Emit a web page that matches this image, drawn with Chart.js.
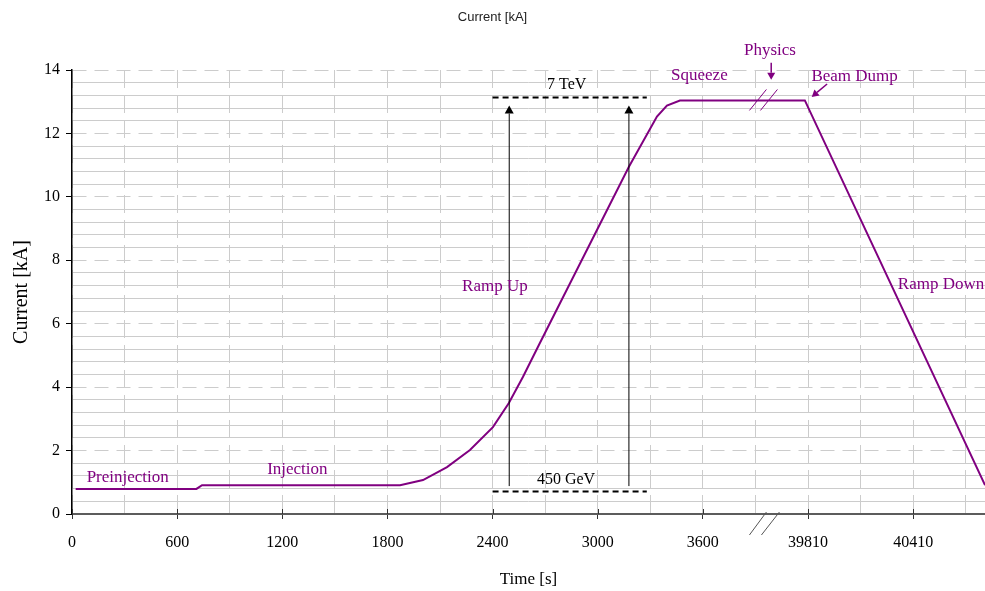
<!DOCTYPE html>
<html>
<head>
<meta charset="utf-8">
<script src="https://cdn.jsdelivr.net/npm/chart.js@4.4.0/dist/chart.umd.min.js"></script>
<style>
  html, body { margin: 0; padding: 0; background: #ffffff; }
  #wrap { width: 985px; height: 591px; }
</style>
</head>
<body>
<div id="wrap"><canvas id="c" width="985" height="591"></canvas></div>
<script>
// ---------------- data ----------------
const timeSeconds = [21, 710, 742, 1872, 2003, 2140, 2271, 2402, 2493, 2573, 2670, 3178, 3338, 3395, 3469, 39792, 40820];
const currentKA   = [0.79, 0.79, 0.91, 0.91, 1.07, 1.48, 2.02, 2.74, 3.50, 4.32, 5.39, 10.95, 12.53, 12.88, 13.04, 13.04, 0.91];

const xTickLabels    = ['0', '600', '1200', '1800', '2400', '3000', '3600', '39810', '40410'];
const xTickPositions = [0, 600, 1200, 1800, 2400, 3000, 3600, 4200, 4800];
const yTickLabels    = ['0', '2', '4', '6', '8', '10', '12', '14'];

const breakAt   = 3900;   // axis position of the time-axis break
const breakSkip = 35610;  // seconds left out by the break (39810 - 4200)
const axisEnd   = 5210;   // last axis position (40820 s)

const phaseLabels  = ['Preinjection', 'Injection', 'Ramp Up', 'Squeeze', 'Physics', 'Beam Dump', 'Ramp Down'];
const energyLabels = ['7 TeV', '450 GeV'];
const energyKA     = [13.13, 0.71];

// ---------------- helpers ----------------
const toAxis = t => (t > breakAt ? t - breakSkip : t);
const near = (a, b) => Math.abs(a - b) < 1e-6;
const yMajorLabel = v => { const k = Math.round(v / 2); return near(v, k * 2) ? yTickLabels[k] : null; };
const xMajorLabel = v => { const i = xTickPositions.findIndex(p => near(p, v)); return i >= 0 ? xTickLabels[i] : null; };

const points = timeSeconds.map((t, i) => ({ x: toAxis(t), y: currentKA[i] }));

// ---------------- annotation layout (positions in axis coordinates) ----------------
const purple = '#800080';
const phaseLayout = [
  { x: 318,  y: 1.16 },   // Preinjection
  { x: 1286, y: 1.39 },   // Injection
  { x: 2413, y: 7.17 },   // Ramp Up
  { x: 3580, y: 13.82 },  // Squeeze
  { x: 3983, y: 14.62 },  // Physics
  { x: 4466, y: 13.80 },  // Beam Dump
  { x: 4959, y: 7.22 }    // Ramp Down
];
const energyLayout = [
  { from: 2400, to: 3280, textX: 2823, textY: 13.53 },
  { from: 2400, to: 3280, textX: 2819, textY: 1.085 }
];
const rampArrowsX = [2495, 3178];
const rampArrowFrom = 0.88, rampArrowTo = 12.88;

function arrow(ctx, x1, y1, x2, y2, color, headLen, headHalf) {
  const ang = Math.atan2(y2 - y1, x2 - x1);
  const bx = x2 - headLen * Math.cos(ang), by = y2 - headLen * Math.sin(ang);
  ctx.strokeStyle = color; ctx.fillStyle = color;
  ctx.beginPath(); ctx.moveTo(x1, y1); ctx.lineTo(bx, by); ctx.stroke();
  ctx.beginPath();
  ctx.moveTo(x2, y2);
  ctx.lineTo(bx + headHalf * Math.sin(ang), by - headHalf * Math.cos(ang));
  ctx.lineTo(bx - headHalf * Math.sin(ang), by + headHalf * Math.cos(ang));
  ctx.closePath(); ctx.fill();
}
function seg(ctx, x1, y1, x2, y2) { ctx.beginPath(); ctx.moveTo(x1, y1); ctx.lineTo(x2, y2); ctx.stroke(); }

const annotPlugin = {
  id: 'annot',
  afterDatasetsDraw(chart) {
    const { ctx, scales: { x, y } } = chart;
    const px = v => x.getPixelForValue(v), py = v => y.getPixelForValue(v);
    ctx.save();
    ctx.textAlign = 'center';
    ctx.textBaseline = 'middle';

    // energy levels: dashed lines + text
    energyLayout.forEach((e, i) => {
      ctx.strokeStyle = '#000'; ctx.lineWidth = 2; ctx.setLineDash([6, 4]);
      seg(ctx, px(e.from), py(energyKA[i]), px(e.to), py(energyKA[i]));
      ctx.setLineDash([]);
      ctx.fillStyle = '#000'; ctx.font = '16px "Liberation Serif"';
      ctx.fillText(energyLabels[i], px(e.textX), py(e.textY));
    });

    // ramp arrows
    ctx.lineWidth = 1;
    rampArrowsX.forEach(ax => arrow(ctx, px(ax), py(rampArrowFrom), px(ax), py(rampArrowTo), '#000', 8, 4.5));

    // phase labels
    ctx.font = '17px "Liberation Serif"';
    ctx.fillStyle = purple;
    phaseLabels.forEach((t, i) => ctx.fillText(t, px(phaseLayout[i].x), py(phaseLayout[i].y)));

    // Physics arrow
    ctx.lineWidth = 1.5;
    arrow(ctx, px(3990), py(14.23), px(3990), py(13.69), purple, 7, 4);
    // Beam Dump arrow
    arrow(ctx, px(4309), py(13.56), px(4221), py(13.15), purple, 7, 4);

    // break marks on the curve
    const bx = px(breakAt), by = py(13.04);
    ctx.strokeStyle = purple; ctx.lineWidth = 1;
    seg(ctx, bx - 6, by + 10, bx + 11, by - 11);
    seg(ctx, bx + 5, by + 10, bx + 22, by - 11);

    // break marks on the x axis
    const ay = y.getPixelForValue(0);
    ctx.strokeStyle = '#555'; ctx.lineWidth = 1;
    seg(ctx, bx - 6, ay + 21, bx + 11, ay - 2);
    seg(ctx, bx + 6, ay + 21, bx + 24, ay - 2);

    // x tick marks continue a little above the axis line
    ctx.strokeStyle = '#333'; ctx.lineWidth = 1;
    xTickPositions.forEach(p => { const xx = Math.round(px(p)) + 0.5; seg(ctx, xx, ay - 5, xx, ay); });

    ctx.restore();
  }
};

new Chart(document.getElementById('c'), {
  type: 'line',
  data: {
    datasets: [{
      data: points,
      borderColor: purple,
      borderWidth: 2,
      pointRadius: 0,
      fill: false,
      tension: 0
    }]
  },
  options: {
    responsive: false,
    devicePixelRatio: 1,
    animation: false,
    parsing: true,
    layout: { padding: { left: 0, right: 0, top: 0, bottom: 0 } },
    plugins: {
      legend: { display: false },
      tooltip: { enabled: false },
      title: {
        display: true,
        text: 'Current [kA]',
        color: '#222',
        font: { family: '"Liberation Sans", Arial, sans-serif', size: 13, weight: 'normal' },
        padding: { top: 10, bottom: 44.4 }
      }
    },
    scales: {
      x: {
        type: 'linear',
        min: 0,
        max: axisEnd,
        afterFit: s => { s.height = 77; },
        ticks: {
          stepSize: 300,
          autoSkip: false,
          includeBounds: false,
          maxRotation: 0,
          color: '#000',
          padding: 14,
          font: { family: '"Liberation Serif", serif', size: 16 },
          callback: v => xMajorLabel(v) ?? ''
        },
        grid: {
          color: '#cccccc',
          lineWidth: 1,
          tickLength: 5,
          tickColor: c => (c.tick && xMajorLabel(c.tick.value) !== null ? '#333' : 'rgba(0,0,0,0)')
        },
        border: {
          display: true,
          color: '#5c5c5c',
          width: 2,
          dash: c => (c.tick ? [18, 7] : [])
        },
        title: {
          display: true,
          text: 'Time [s]',
          color: '#000',
          font: { family: '"Liberation Serif", serif', size: 17 },
          padding: { top: 0, bottom: 1 }
        }
      },
      y: {
        type: 'linear',
        min: 0,
        max: 14,
        afterFit: s => { s.width = 72; },
        ticks: {
          stepSize: 0.4,
          autoSkip: false,
          color: '#000',
          padding: 6,
          font: { family: '"Liberation Serif", serif', size: 16 },
          callback: v => yMajorLabel(v) ?? ''
        },
        grid: {
          color: '#cccccc',
          lineWidth: 1,
          tickLength: 6,
          tickColor: c => (c.tick && yMajorLabel(c.tick.value) !== null ? '#000' : 'rgba(0,0,0,0)')
        },
        border: {
          display: true,
          color: '#000',
          width: 1.5,
          dash: c => (c.tick && yMajorLabel(c.tick.value) !== null ? [14, 8] : [])
        },
        title: {
          display: true,
          text: 'Current [kA]',
          color: '#000',
          font: { family: '"Liberation Serif", serif', size: 20 },
          padding: { top: 10, bottom: 0 }
        }
      }
    }
  },
  plugins: [annotPlugin]
});
</script>
</body>
</html>
